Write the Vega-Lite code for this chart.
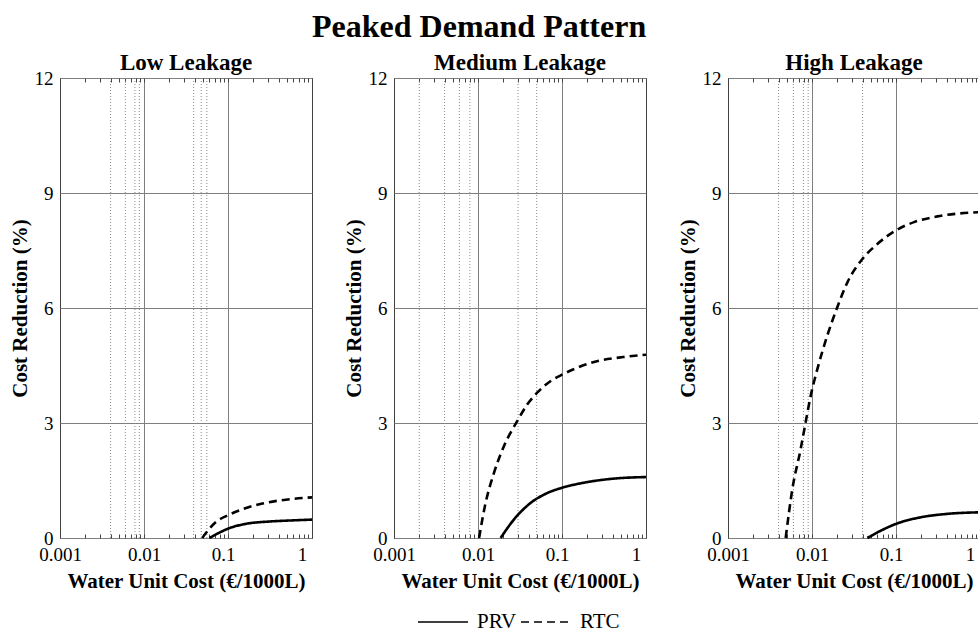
{
  "$schema": "https://vega.github.io/schema/vega-lite/v6.json",
  "padding": {"left": 8, "top": 10, "right": 0, "bottom": 0},
  "title": {
    "text": "Peaked Demand Pattern",
    "font": "Liberation Serif",
    "fontSize": 32,
    "fontWeight": "bold",
    "color": "black",
    "anchor": "middle",
    "offset": 8,
    "dx": -18
  },
  "datasets": {
    "curves": [
      {"leakage": "Low", "method": "RTC", "cost": 0.0493, "reduction": 0},
      {"leakage": "Low", "method": "RTC", "cost": 0.06, "reduction": 0.24},
      {"leakage": "Low", "method": "RTC", "cost": 0.0722, "reduction": 0.42},
      {"leakage": "Low", "method": "RTC", "cost": 0.099, "reduction": 0.59},
      {"leakage": "Low", "method": "RTC", "cost": 0.149, "reduction": 0.75},
      {"leakage": "Low", "method": "RTC", "cost": 0.257, "reduction": 0.9},
      {"leakage": "Low", "method": "RTC", "cost": 0.488, "reduction": 1.0},
      {"leakage": "Low", "method": "RTC", "cost": 1, "reduction": 1.06},
      {"leakage": "Low", "method": "PRV", "cost": 0.06, "reduction": 0},
      {"leakage": "Low", "method": "PRV", "cost": 0.079, "reduction": 0.14},
      {"leakage": "Low", "method": "PRV", "cost": 0.099, "reduction": 0.24},
      {"leakage": "Low", "method": "PRV", "cost": 0.164, "reduction": 0.37},
      {"leakage": "Low", "method": "PRV", "cost": 0.31, "reduction": 0.43},
      {"leakage": "Low", "method": "PRV", "cost": 0.6, "reduction": 0.46},
      {"leakage": "Low", "method": "PRV", "cost": 1, "reduction": 0.48},
      {"leakage": "Medium", "method": "RTC", "cost": 0.0103, "reduction": 0},
      {"leakage": "Medium", "method": "RTC", "cost": 0.0123, "reduction": 0.91},
      {"leakage": "Medium", "method": "RTC", "cost": 0.0155, "reduction": 1.7},
      {"leakage": "Medium", "method": "RTC", "cost": 0.0203, "reduction": 2.39},
      {"leakage": "Medium", "method": "RTC", "cost": 0.0293, "reduction": 3.05},
      {"leakage": "Medium", "method": "RTC", "cost": 0.0385, "reduction": 3.48},
      {"leakage": "Medium", "method": "RTC", "cost": 0.0506, "reduction": 3.79},
      {"leakage": "Medium", "method": "RTC", "cost": 0.0727, "reduction": 4.09},
      {"leakage": "Medium", "method": "RTC", "cost": 0.1, "reduction": 4.26},
      {"leakage": "Medium", "method": "RTC", "cost": 0.151, "reduction": 4.44},
      {"leakage": "Medium", "method": "RTC", "cost": 0.26, "reduction": 4.61},
      {"leakage": "Medium", "method": "RTC", "cost": 0.537, "reduction": 4.72},
      {"leakage": "Medium", "method": "RTC", "cost": 1, "reduction": 4.78},
      {"leakage": "Medium", "method": "PRV", "cost": 0.0186, "reduction": 0},
      {"leakage": "Medium", "method": "PRV", "cost": 0.0267, "reduction": 0.48},
      {"leakage": "Medium", "method": "PRV", "cost": 0.042, "reduction": 0.91},
      {"leakage": "Medium", "method": "PRV", "cost": 0.0664, "reduction": 1.17},
      {"leakage": "Medium", "method": "PRV", "cost": 0.1, "reduction": 1.31},
      {"leakage": "Medium", "method": "PRV", "cost": 0.18, "reduction": 1.44},
      {"leakage": "Medium", "method": "PRV", "cost": 0.373, "reduction": 1.54},
      {"leakage": "Medium", "method": "PRV", "cost": 1, "reduction": 1.59},
      {"leakage": "High", "method": "RTC", "cost": 0.00486, "reduction": 0},
      {"leakage": "High", "method": "RTC", "cost": 0.00584, "reduction": 1.28},
      {"leakage": "High", "method": "RTC", "cost": 0.00733, "reduction": 2.32},
      {"leakage": "High", "method": "RTC", "cost": 0.0084, "reduction": 3.02},
      {"leakage": "High", "method": "RTC", "cost": 0.00965, "reduction": 3.71},
      {"leakage": "High", "method": "RTC", "cost": 0.0116, "reduction": 4.41},
      {"leakage": "High", "method": "RTC", "cost": 0.0152, "reduction": 5.28},
      {"leakage": "High", "method": "RTC", "cost": 0.02, "reduction": 6.02},
      {"leakage": "High", "method": "RTC", "cost": 0.0264, "reduction": 6.67},
      {"leakage": "High", "method": "RTC", "cost": 0.0398, "reduction": 7.28},
      {"leakage": "High", "method": "RTC", "cost": 0.06, "reduction": 7.67},
      {"leakage": "High", "method": "RTC", "cost": 0.099, "reduction": 8.02},
      {"leakage": "High", "method": "RTC", "cost": 0.164, "reduction": 8.24},
      {"leakage": "High", "method": "RTC", "cost": 0.311, "reduction": 8.39},
      {"leakage": "High", "method": "RTC", "cost": 1, "reduction": 8.5},
      {"leakage": "High", "method": "PRV", "cost": 0.0456, "reduction": 0},
      {"leakage": "High", "method": "PRV", "cost": 0.0658, "reduction": 0.19},
      {"leakage": "High", "method": "PRV", "cost": 0.099, "reduction": 0.365},
      {"leakage": "High", "method": "PRV", "cost": 0.197, "reduction": 0.54},
      {"leakage": "High", "method": "PRV", "cost": 0.41, "reduction": 0.63},
      {"leakage": "High", "method": "PRV", "cost": 1, "reduction": 0.67}
    ],
    "refs": [
      {"leakage": "Low", "cost": 0.004},
      {"leakage": "Low", "cost": 0.006},
      {"leakage": "Low", "cost": 0.0078},
      {"leakage": "Low", "cost": 0.0088},
      {"leakage": "Low", "cost": 0.039},
      {"leakage": "Low", "cost": 0.048},
      {"leakage": "Low", "cost": 0.056},
      {"leakage": "Medium", "cost": 0.002},
      {"leakage": "Medium", "cost": 0.004},
      {"leakage": "Medium", "cost": 0.006},
      {"leakage": "Medium", "cost": 0.008},
      {"leakage": "Medium", "cost": 0.03},
      {"leakage": "Medium", "cost": 0.05},
      {"leakage": "High", "cost": 0.004},
      {"leakage": "High", "cost": 0.006},
      {"leakage": "High", "cost": 0.0079},
      {"leakage": "High", "cost": 0.009},
      {"leakage": "High", "cost": 0.04}
    ]
  },
  "spacing": 24,
  "resolve": {"scale": {"strokeDash": "shared"}, "legend": {"strokeDash": "shared"}},
  "hconcat": [
    {
      "title": "Low Leakage",
      "width": 252,
      "height": 460,
      "resolve": {"axis": {"x": "independent"}},
      "layer": [
        {
          "data": {"name": "refs"},
          "transform": [{"filter": "datum.leakage == 'Low'"}],
          "mark": {"type": "rule", "color": "#8a8a8a", "strokeDash": [1, 2], "strokeWidth": 1},
          "encoding": {
            "x": {"field": "cost", "type": "quantitative", "scale": {"type": "log", "domain": [0.001, 1], "nice": false},
              "axis": {"orient": "top", "values": [0.001,0.002,0.003,0.004,0.005,0.006,0.007,0.008,0.009,0.01,0.02,0.03,0.04,0.05,0.06,0.07,0.08,0.09,0.1,0.2,0.3,0.4,0.5,0.6,0.7,0.8,0.9,1], "labels": false, "title": null, "grid": false, "domain": false, "tickSize": -4, "tickColor": "#444444"}}
          }
        },
        {
          "data": {"name": "curves"},
          "transform": [{"filter": "datum.leakage == 'Low'"}],
          "mark": {"type": "line", "color": "black", "strokeWidth": 2.6, "interpolate": "monotone"},
          "encoding": {
            "x": {"field": "cost", "type": "quantitative", "scale": {"type": "log", "domain": [0.001, 1], "nice": false},
              "axis": {"orient": "bottom", "title": "Water Unit Cost (€/1000L)", "values": [0.001,0.002,0.003,0.004,0.005,0.006,0.007,0.008,0.009,0.01,0.02,0.03,0.04,0.05,0.06,0.07,0.08,0.09,0.1,0.2,0.3,0.4,0.5,0.6,0.7,0.8,0.9,1],
                "labelExpr": "datum.value == 0.001 ? '0.001' : datum.value == 0.01 ? '0.01' : datum.value == 0.1 ? '0.1' : datum.value == 1 ? '1' : ''",
                "labelFlush": false, "labelOverlap": false,
                "labelOffset": {"condition": [{"test": "datum.value == 1", "value": -10}, {"test": "datum.value == 0.1", "value": -5}], "value": 0},
                "grid": true,
                "gridOpacity": {"condition": {"test": "datum.value == 0.01 || datum.value == 0.1", "value": 1}, "value": 0},
                "tickSize": -4}},
            "y": {"field": "reduction", "type": "quantitative", "scale": {"domain": [0, 12], "nice": false}, "axis": {"title": "Cost Reduction (%)", "values": [0, 3, 6, 9, 12]}},
            "strokeDash": {"field": "method", "type": "nominal", "scale": {"domain": ["PRV", "RTC"], "range": [[1, 0], [8, 5]]}}
          }
        }
      ]
    },
    {
      "title": "Medium Leakage",
      "width": 252,
      "height": 460,
      "resolve": {"axis": {"x": "independent"}},
      "layer": [
        {
          "data": {"name": "refs"},
          "transform": [{"filter": "datum.leakage == 'Medium'"}],
          "mark": {"type": "rule", "color": "#8a8a8a", "strokeDash": [1, 2], "strokeWidth": 1},
          "encoding": {
            "x": {"field": "cost", "type": "quantitative", "scale": {"type": "log", "domain": [0.001, 1], "nice": false},
              "axis": {"orient": "top", "values": [0.001,0.002,0.003,0.004,0.005,0.006,0.007,0.008,0.009,0.01,0.02,0.03,0.04,0.05,0.06,0.07,0.08,0.09,0.1,0.2,0.3,0.4,0.5,0.6,0.7,0.8,0.9,1], "labels": false, "title": null, "grid": false, "domain": false, "tickSize": -4, "tickColor": "#444444"}}
          }
        },
        {
          "data": {"name": "curves"},
          "transform": [{"filter": "datum.leakage == 'Medium'"}],
          "mark": {"type": "line", "color": "black", "strokeWidth": 2.6, "interpolate": "monotone"},
          "encoding": {
            "x": {"field": "cost", "type": "quantitative", "scale": {"type": "log", "domain": [0.001, 1], "nice": false},
              "axis": {"orient": "bottom", "title": "Water Unit Cost (€/1000L)", "values": [0.001,0.002,0.003,0.004,0.005,0.006,0.007,0.008,0.009,0.01,0.02,0.03,0.04,0.05,0.06,0.07,0.08,0.09,0.1,0.2,0.3,0.4,0.5,0.6,0.7,0.8,0.9,1],
                "labelExpr": "datum.value == 0.001 ? '0.001' : datum.value == 0.01 ? '0.01' : datum.value == 0.1 ? '0.1' : datum.value == 1 ? '1' : ''",
                "labelFlush": false, "labelOverlap": false,
                "labelOffset": {"condition": [{"test": "datum.value == 1", "value": -10}, {"test": "datum.value == 0.1", "value": -5}], "value": 0},
                "grid": true,
                "gridOpacity": {"condition": {"test": "datum.value == 0.01 || datum.value == 0.1", "value": 1}, "value": 0},
                "tickSize": -4}},
            "y": {"field": "reduction", "type": "quantitative", "scale": {"domain": [0, 12], "nice": false}, "axis": {"title": "Cost Reduction (%)", "values": [0, 3, 6, 9, 12]}},
            "strokeDash": {"field": "method", "type": "nominal", "scale": {"domain": ["PRV", "RTC"], "range": [[1, 0], [8, 5]]}}
          }
        }
      ]
    },
    {
      "title": "High Leakage",
      "width": 252,
      "height": 460,
      "resolve": {"axis": {"x": "independent"}},
      "layer": [
        {
          "data": {"name": "refs"},
          "transform": [{"filter": "datum.leakage == 'High'"}],
          "mark": {"type": "rule", "color": "#8a8a8a", "strokeDash": [1, 2], "strokeWidth": 1},
          "encoding": {
            "x": {"field": "cost", "type": "quantitative", "scale": {"type": "log", "domain": [0.001, 1], "nice": false},
              "axis": {"orient": "top", "values": [0.001,0.002,0.003,0.004,0.005,0.006,0.007,0.008,0.009,0.01,0.02,0.03,0.04,0.05,0.06,0.07,0.08,0.09,0.1,0.2,0.3,0.4,0.5,0.6,0.7,0.8,0.9,1], "labels": false, "title": null, "grid": false, "domain": false, "tickSize": -4, "tickColor": "#444444"}}
          }
        },
        {
          "data": {"name": "curves"},
          "transform": [{"filter": "datum.leakage == 'High'"}],
          "mark": {"type": "line", "color": "black", "strokeWidth": 2.6, "interpolate": "monotone"},
          "encoding": {
            "x": {"field": "cost", "type": "quantitative", "scale": {"type": "log", "domain": [0.001, 1], "nice": false},
              "axis": {"orient": "bottom", "title": "Water Unit Cost (€/1000L)", "values": [0.001,0.002,0.003,0.004,0.005,0.006,0.007,0.008,0.009,0.01,0.02,0.03,0.04,0.05,0.06,0.07,0.08,0.09,0.1,0.2,0.3,0.4,0.5,0.6,0.7,0.8,0.9,1],
                "labelExpr": "datum.value == 0.001 ? '0.001' : datum.value == 0.01 ? '0.01' : datum.value == 0.1 ? '0.1' : datum.value == 1 ? '1' : ''",
                "labelFlush": false, "labelOverlap": false,
                "labelOffset": {"condition": [{"test": "datum.value == 1", "value": -10}, {"test": "datum.value == 0.1", "value": -5}], "value": 0},
                "grid": true,
                "gridOpacity": {"condition": {"test": "datum.value == 0.01 || datum.value == 0.1", "value": 1}, "value": 0},
                "tickSize": -4}},
            "y": {"field": "reduction", "type": "quantitative", "scale": {"domain": [0, 12], "nice": false}, "axis": {"title": "Cost Reduction (%)", "values": [0, 3, 6, 9, 12]}},
            "strokeDash": {"field": "method", "type": "nominal", "scale": {"domain": ["PRV", "RTC"], "range": [[1, 0], [8, 5]]},
              "legend": {"orient": "none", "legendX": 357, "legendY": 518, "direction": "horizontal", "title": null}}
          }
        }
      ]
    }
  ],
  "config": {
    "view": {"stroke": "#404040", "strokeWidth": 1},
    "font": "Liberation Serif",
    "title": {"font": "Liberation Serif", "fontSize": 23, "fontWeight": "bold", "color": "black", "offset": -6},
    "axis": {
      "labelFont": "Liberation Serif",
      "labelFontSize": 19,
      "labelColor": "black",
      "titleFont": "Liberation Serif",
      "titleFontSize": 21,
      "titleFontWeight": "bold",
      "titleColor": "black",
      "gridColor": "#7f7f7f",
      "gridWidth": 1,
      "domain": false,
      "tickColor": "#444444",
      "tickWidth": 1
    },
    "axisX": {"labelPadding": 11, "titlePadding": 6},
    "axisY": {"tickSize": 0, "labelPadding": 7, "titlePadding": 4, "grid": true},
    "legend": {
      "symbolType": "stroke",
      "symbolSize": 2500,
      "symbolStrokeWidth": 1.6,
      "symbolStrokeColor": "black",
      "labelFont": "Liberation Serif",
      "labelFontSize": 21,
      "labelColor": "black",
      "labelOffset": 8,
      "columnPadding": 0
    }
  }
}
